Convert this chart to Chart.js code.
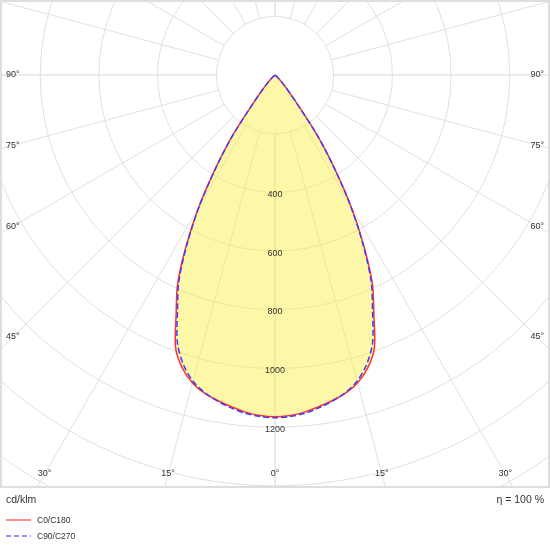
<!DOCTYPE html>
<html>
<head>
<meta charset="utf-8">
<script src="https://cdn.jsdelivr.net/npm/chart.js@4.4.0/dist/chart.umd.min.js"></script>
<style>
  html, body { margin: 0; padding: 0; background: #fff; }
  #wrap { width: 550px; height: 550px; }
</style>
</head>
<body>
<div id="wrap"><canvas id="ldc" width="550" height="550"></canvas></div>
<script>
// gamma angles from nadir (deg) and intensities in cd/klm
const gammaAngles = [0, 2.5, 5, 7.5, 10, 12.5, 15, 17.5, 20, 22.5, 25, 27.5, 30, 32.5, 35, 37.5, 40, 42.5, 45, 47.5, 50, 60, 70, 80, 90];
const c0c180  = [1164, 1161, 1153, 1140, 1126, 1110, 1086, 1048, 990, 880, 785, 655, 520, 378, 255, 128, 70, 42, 22, 8, 0, 0, 0, 0, 0];
const c90c270 = [1168, 1165, 1157, 1144, 1128, 1108, 1080, 1036, 972, 868, 775, 648, 515, 375, 252, 126, 70, 42, 22, 8, 0, 0, 0, 0, 0];

const ringValues = [200, 400, 600, 800, 1000, 1200, 1400, 1600, 1800];
const ringLabels = [400, 600, 800, 1000, 1200];
const angleLabels = [90, 75, 60, 45, 30, 15, 0];
const seriesNames = ['C0/C180', 'C90/C270'];
const unitLabel = 'cd/klm';
const efficiencyLabel = 'η = 100 %';

const FONT = '"Liberation Sans", Arial, sans-serif';

// turn a half-plane table into one closed outline: left side (C180/C270) then right side (C0/C90)
function polarCurve(values) {
  const pts = [];
  for (let i = gammaAngles.length - 1; i >= 0; i--) {
    const a = gammaAngles[i] * Math.PI / 180;
    pts.push({x: -values[i] * Math.sin(a), y: -values[i] * Math.cos(a)});
  }
  for (let i = 1; i < gammaAngles.length; i++) {
    const a = gammaAngles[i] * Math.PI / 180;
    pts.push({x: values[i] * Math.sin(a), y: -values[i] * Math.cos(a)});
  }
  return pts;
}

const polarGrid = {
  id: 'polarGrid',
  beforeDatasetsDraw(chart) {
    const {ctx, chartArea: area, scales: {x, y}} = chart;
    const cx = x.getPixelForValue(0), cy = y.getPixelForValue(0);
    const k = (x.getPixelForValue(1000) - cx) / 1000;
    ctx.save();
    ctx.beginPath();
    ctx.rect(area.left, area.top, area.width, area.height);
    ctx.clip();
    ctx.strokeStyle = '#e0e0e0';
    ctx.lineWidth = 1;
    ringValues.forEach(v => {
      ctx.beginPath();
      ctx.arc(cx, cy, v * k, 0, Math.PI * 2);
      ctx.stroke();
    });
    const r0 = ringValues[0] * k, r1 = 2400 * k;
    for (let deg = 0; deg < 360; deg += 15) {
      const a = deg * Math.PI / 180;
      ctx.lineWidth = (deg % 90 === 0) ? 1.6 : 1;
      ctx.strokeStyle = (deg % 90 === 0) ? '#e4e4e4' : '#e0e0e0';
      ctx.beginPath();
      ctx.moveTo(cx + r0 * Math.sin(a), cy + r0 * Math.cos(a));
      ctx.lineTo(cx + r1 * Math.sin(a), cy + r1 * Math.cos(a));
      ctx.stroke();
    }
    ctx.restore();
  },
  afterDatasetsDraw(chart) {
    const {ctx, chartArea: area, scales: {x, y}} = chart;
    const cx = x.getPixelForValue(0), cy = y.getPixelForValue(0);
    ctx.save();
    ctx.fillStyle = '#333';
    ctx.font = '9px ' + FONT;
    ctx.textBaseline = 'middle';
    ctx.textAlign = 'center';
    ringLabels.forEach(v => {
      ctx.fillText(String(v), cx, y.getPixelForValue(-v) + 2);
    });

    // angle labels where the spokes leave the frame
    const sideL = 13, bottomY = area.bottom - 13;
    angleLabels.forEach(deg => {
      const a = deg * Math.PI / 180;
      const s = Math.sin(a), c = Math.cos(a);
      const txt = deg + '°';
      if (deg === 0) {
        ctx.textAlign = 'center';
        ctx.fillText(txt, cx, bottomY);
        return;
      }
      const t = (cx - sideL) / s;
      const ys = cy + t * c;
      if (ys <= bottomY) {
        ctx.textAlign = 'left';
        ctx.fillText(txt, area.left + 6, ys);
        ctx.textAlign = 'right';
        ctx.fillText(txt, area.right - 6, ys);
      } else {
        const tb = (bottomY - cy) / c;
        ctx.textAlign = 'center';
        ctx.fillText(txt, cx - tb * s, bottomY);
        ctx.fillText(txt, cx + tb * s, bottomY);
      }
    });

    // frame
    ctx.strokeStyle = '#dedede';
    ctx.lineWidth = 2;
    ctx.strokeRect(area.left + 1, area.top + 1, area.width - 2, area.height - 1);

    // footer texts
    ctx.fillStyle = '#333';
    ctx.font = '10.5px ' + FONT;
    ctx.textAlign = 'left';
    ctx.fillText(unitLabel, 6, 500);
    ctx.textAlign = 'right';
    ctx.fillText(efficiencyLabel, 544, 500);

    // legend
    const legendColors = ['rgb(255,140,140)', 'rgb(150,150,255)'];
    const legendDash = [[], [5, 3]];
    seriesNames.forEach((name, i) => {
      const ly = 520 + i * 16;
      ctx.strokeStyle = legendColors[i];
      ctx.lineWidth = 2;
      ctx.setLineDash(legendDash[i]);
      ctx.beginPath();
      ctx.moveTo(6, ly);
      ctx.lineTo(31, ly);
      ctx.stroke();
      ctx.setLineDash([]);
      ctx.fillStyle = '#333';
      ctx.font = '8.5px ' + FONT;
      ctx.textAlign = 'left';
      ctx.fillText(name, 37, ly + 1);
    });
    ctx.restore();
  }
};

// scale: 0.2935 px per cd/klm, centre at (275, 75), frame height 487
const pxPerCd = 0.2935;
const xHalf = 275 / pxPerCd;
const yTop = 75 / pxPerCd;
const yBottom = -(487 - 75) / pxPerCd;

new Chart(document.getElementById('ldc'), {
  type: 'scatter',
  data: {
    datasets: [
      {
        label: seriesNames[1],
        data: polarCurve(c90c270),
        showLine: true,
        borderColor: 'rgb(60,60,255)',
        borderWidth: 1.5,
        borderDash: [6, 3],
        pointRadius: 0,
        fill: false,
        tension: 0.3,
        order: 0
      },
      {
        label: seriesNames[0],
        data: polarCurve(c0c180),
        showLine: true,
        borderColor: 'rgb(255,50,50)',
        backgroundColor: 'rgba(250,240,60,0.45)',
        borderWidth: 1.5,
        pointRadius: 0,
        fill: 'shape',
        tension: 0.3,
        order: 1
      }
    ]
  },
  options: {
    responsive: false,
    animation: false,
    layout: { padding: { left: 0, right: 0, top: 0, bottom: 63 } },
    scales: {
      x: { type: 'linear', min: -xHalf, max: xHalf, display: false },
      y: { type: 'linear', min: yBottom, max: yTop, display: false }
    },
    plugins: {
      legend: { display: false },
      tooltip: { enabled: false }
    }
  },
  plugins: [polarGrid]
});
</script>
</body>
</html>
